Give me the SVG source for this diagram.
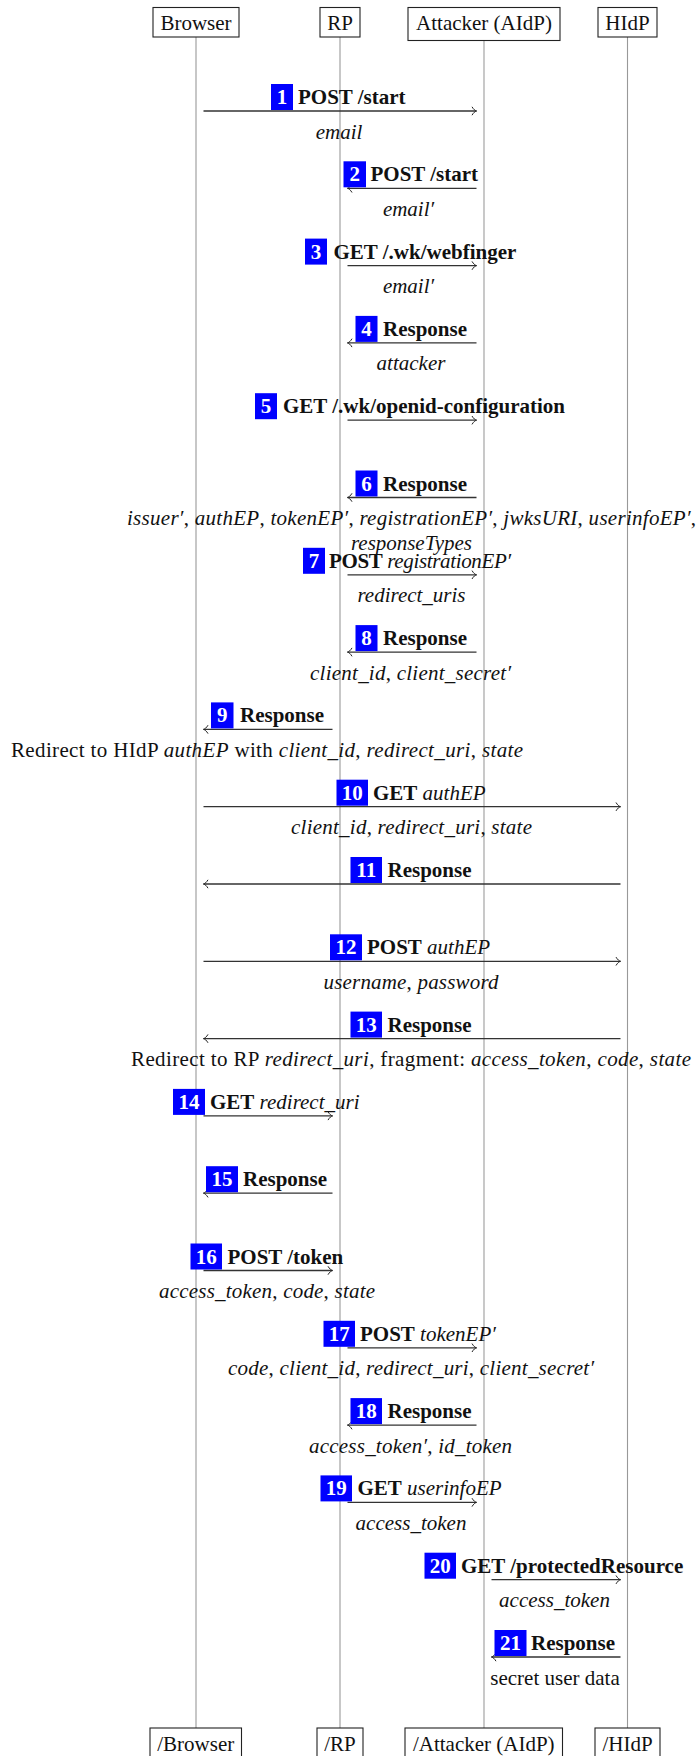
<svg xmlns="http://www.w3.org/2000/svg" width="699" height="1756" viewBox="0 0 699 1756">
  <defs>
    <style>
      text { font-family: "Liberation Serif", "Times New Roman", serif; font-size: 21px; fill: #111; }
      .b { font-weight: bold; }
      .i { font-style: italic; }
      .mid { text-anchor: middle; }
      .box { fill: #fff; stroke: #222; stroke-width: 1.1; }
      .life { stroke: #999; stroke-width: 1.1; }
      .life-a { stroke: #bbb; stroke-width: 1.6; }
      .msg { stroke: #333; stroke-width: 1.3; fill: none; marker-end: url(#tip); }
      .badge { fill: #0000ff; }
      .num { fill: #fff; font-weight: bold; text-anchor: middle; }
    </style>
    <!-- open "to"-style arrow tip -->
    <marker id="tip" viewBox="-6 -6 8 12" markerWidth="8" markerHeight="12" refX="0" refY="0" orient="auto" markerUnits="userSpaceOnUse">
      <path d="M-4.5,-4.2 C-3,-1.6 -1.2,-0.3 0,0 C-1.2,0.3 -3,1.6 -4.5,4.2" fill="none" stroke="#222" stroke-width="1"/>
    </marker>
  </defs>

  <rect width="699" height="1756" fill="#fff"/>

  <!-- lifelines -->
  <g id="lifelines">
    <line class="life" x1="196" y1="37" x2="196" y2="1728"/>
    <line class="life" x1="340" y1="37" x2="340" y2="1728"/>
    <line class="life-a" x1="484" y1="40.5" x2="484" y2="1728"/>
    <line class="life" x1="627.5" y1="37" x2="627.5" y2="1728"/>
  </g>

  <!-- participants (top) -->
  <g id="browser">
    <rect class="box" x="153" y="7.5" width="86" height="29.5"/>
    <text class="mid" x="196" y="29.5">Browser</text>
  </g>
  <g id="rp">
    <rect class="box" x="320" y="7.5" width="40" height="29.5"/>
    <text class="mid" x="340" y="29.5">RP</text>
  </g>
  <g id="attacker">
    <rect class="box" x="408" y="7.5" width="152" height="33"/>
    <text class="mid" x="484" y="29.5">Attacker (AIdP)</text>
  </g>
  <g id="hidp">
    <rect class="box" x="598" y="7.5" width="59" height="29.5"/>
    <text class="mid" x="627.5" y="29.5">HIdP</text>
  </g>

  <!-- participants (bottom) -->
  <g id="browser-end">
    <rect class="box" x="150" y="1728" width="91.5" height="34"/>
    <text class="mid" x="195.75" y="1751">/Browser</text>
  </g>
  <g id="rp-end">
    <rect class="box" x="317" y="1728" width="46" height="34"/>
    <text class="mid" x="340" y="1751">/RP</text>
  </g>
  <g id="attacker-end">
    <rect class="box" x="405" y="1728" width="157.5" height="34"/>
    <text class="mid" x="483.75" y="1751">/Attacker (AIdP)</text>
  </g>
  <g id="hidp-end">
    <rect class="box" x="595" y="1728" width="65" height="34"/>
    <text class="mid" x="627.5" y="1751">/HIdP</text>
  </g>

  <!-- message arrows -->
  <g id="connectors">
    <line class="msg" x1="203.5" y1="111" x2="476.5" y2="111"/>
    <line class="msg" x1="476.5" y1="188.3" x2="347.5" y2="188.3"/>
    <line class="msg" x1="347.5" y1="265.6" x2="476.5" y2="265.6"/>
    <line class="msg" x1="476.5" y1="342.9" x2="347.5" y2="342.9"/>
    <line class="msg" x1="347.5" y1="420.2" x2="476.5" y2="420.2"/>
    <line class="msg" x1="476.5" y1="497.5" x2="347.5" y2="497.5"/>
    <line class="msg" x1="347.5" y1="574.8" x2="476.5" y2="574.8"/>
    <line class="msg" x1="476.5" y1="652.1" x2="347.5" y2="652.1"/>
    <line class="msg" x1="332.5" y1="729.4" x2="203.5" y2="729.4"/>
    <line class="msg" x1="203.5" y1="806.7" x2="620.5" y2="806.7"/>
    <line class="msg" x1="620.5" y1="884" x2="203.5" y2="884"/>
    <line class="msg" x1="203.5" y1="961.3" x2="620.5" y2="961.3"/>
    <line class="msg" x1="620.5" y1="1038.6" x2="203.5" y2="1038.6"/>
    <line class="msg" x1="203.5" y1="1115.9" x2="332.5" y2="1115.9"/>
    <line class="msg" x1="332.5" y1="1193.2" x2="203.5" y2="1193.2"/>
    <line class="msg" x1="203.5" y1="1270.5" x2="332.5" y2="1270.5"/>
    <line class="msg" x1="347.5" y1="1347.8" x2="476.5" y2="1347.8"/>
    <line class="msg" x1="476.5" y1="1425.1" x2="347.5" y2="1425.1"/>
    <line class="msg" x1="347.5" y1="1502.4" x2="476.5" y2="1502.4"/>
    <line class="msg" x1="491.5" y1="1579.7" x2="620.5" y2="1579.7"/>
    <line class="msg" x1="620.5" y1="1657" x2="491.5" y2="1657"/>
  </g>

  <!-- message labels -->
  <g id="m1">
    <rect class="badge" x="271" y="84" width="22" height="26"/>
    <text class="num" x="282" y="104">1</text>
    <text class="b" x="298" y="104">POST /start</text>
    <text class="mid i" x="339" y="138.5">email</text>
  </g>
  <g id="m2">
    <rect class="badge" x="343.5" y="161.3" width="22.5" height="26"/>
    <text class="num" x="354.75" y="181.3">2</text>
    <text class="b" x="370.5" y="181.3">POST /start</text>
    <text class="mid i" x="408.5" y="215.8">email′</text>
  </g>
  <g id="m3">
    <rect class="badge" x="305" y="238.6" width="22" height="26"/>
    <text class="num" x="316" y="258.6">3</text>
    <text class="b" x="333.5" y="258.6">GET /.wk/webfinger</text>
    <text class="mid i" x="408.5" y="293.1">email′</text>
  </g>
  <g id="m4">
    <rect class="badge" x="355.5" y="315.9" width="22" height="26"/>
    <text class="num" x="366.5" y="335.9">4</text>
    <text class="b" x="383" y="335.9">Response</text>
    <text class="mid i" x="411" y="370.4">attacker</text>
  </g>
  <g id="m5">
    <rect class="badge" x="255" y="393.2" width="22" height="26"/>
    <text class="num" x="266" y="413.2">5</text>
    <text class="b" x="283" y="413.2">GET /.wk/openid-configuration</text>
  </g>
  <g id="m6">
    <rect class="badge" x="355.5" y="470.5" width="22" height="26"/>
    <text class="num" x="366.5" y="490.5">6</text>
    <text class="b" x="383" y="490.5">Response</text>
    <text class="mid" x="411.5" y="525" textLength="569" lengthAdjust="spacing"><tspan class="i">issuer′</tspan>, <tspan class="i">authEP</tspan>, <tspan class="i">tokenEP′</tspan>, <tspan class="i">registrationEP′</tspan>, <tspan class="i">jwksURI</tspan>, <tspan class="i">userinfoEP′</tspan>,</text>
    <text class="mid i" x="411.5" y="549.5" textLength="121" lengthAdjust="spacing">responseTypes</text>
  </g>
  <g id="m7">
    <rect class="badge" x="303" y="547.8" width="22" height="26"/>
    <text class="num" x="314" y="567.8">7</text>
    <text x="329" y="567.8" textLength="182" lengthAdjust="spacing"><tspan class="b">POST</tspan> <tspan class="i">registrationEP′</tspan></text>
    <text class="mid i" x="411.5" y="602.3">redirect_uris</text>
  </g>
  <g id="m8">
    <rect class="badge" x="355.5" y="625.1" width="22" height="26"/>
    <text class="num" x="366.5" y="645.1">8</text>
    <text class="b" x="383" y="645.1">Response</text>
    <text class="mid" x="410.5" y="679.6" textLength="201" lengthAdjust="spacing"><tspan class="i">client_id</tspan>, <tspan class="i">client_secret′</tspan></text>
  </g>
  <g id="m9">
    <rect class="badge" x="211" y="702.4" width="22.5" height="26"/>
    <text class="num" x="222.25" y="722.4">9</text>
    <text class="b" x="240" y="722.4">Response</text>
    <text class="mid" x="267" y="756.9" textLength="512" lengthAdjust="spacing">Redirect to HIdP <tspan class="i">authEP</tspan> with <tspan class="i">client_id</tspan>, <tspan class="i">redirect_uri</tspan>, <tspan class="i">state</tspan></text>
  </g>
  <g id="m10">
    <rect class="badge" x="336.5" y="779.7" width="31.5" height="26"/>
    <text class="num" x="352.25" y="799.7">10</text>
    <text x="373" y="799.7"><tspan class="b">GET</tspan> <tspan class="i">authEP</tspan></text>
    <text class="mid" x="411.5" y="834.2" textLength="241" lengthAdjust="spacing"><tspan class="i">client_id</tspan>, <tspan class="i">redirect_uri</tspan>, <tspan class="i">state</tspan></text>
  </g>
  <g id="m11">
    <rect class="badge" x="350.5" y="857" width="31.5" height="26"/>
    <text class="num" x="366.25" y="877">11</text>
    <text class="b" x="387.5" y="877">Response</text>
  </g>
  <g id="m12">
    <rect class="badge" x="330" y="934.3" width="32" height="26"/>
    <text class="num" x="346" y="954.3">12</text>
    <text x="367" y="954.3"><tspan class="b">POST</tspan> <tspan class="i">authEP</tspan></text>
    <text class="mid" x="411" y="988.8" textLength="175" lengthAdjust="spacing"><tspan class="i">username</tspan>, <tspan class="i">password</tspan></text>
  </g>
  <g id="m13">
    <rect class="badge" x="350.5" y="1011.6" width="31.5" height="26"/>
    <text class="num" x="366.25" y="1031.6">13</text>
    <text class="b" x="387.5" y="1031.6">Response</text>
    <text class="mid" x="411" y="1066.1" textLength="560" lengthAdjust="spacing">Redirect to RP <tspan class="i">redirect_uri</tspan>, fragment:  <tspan class="i">access_token</tspan>, <tspan class="i">code</tspan>, <tspan class="i">state</tspan></text>
  </g>
  <g id="m14">
    <rect class="badge" x="173" y="1088.9" width="32" height="26"/>
    <text class="num" x="189" y="1108.9">14</text>
    <text x="210" y="1108.9"><tspan class="b">GET</tspan> <tspan class="i">redirect_uri</tspan></text>
  </g>
  <g id="m15">
    <rect class="badge" x="206" y="1166.2" width="32" height="26"/>
    <text class="num" x="222" y="1186.2">15</text>
    <text class="b" x="243" y="1186.2">Response</text>
  </g>
  <g id="m16">
    <rect class="badge" x="190.5" y="1243.5" width="31.5" height="26"/>
    <text class="num" x="206.25" y="1263.5">16</text>
    <text class="b" x="227.5" y="1263.5">POST /token</text>
    <text class="mid" x="267" y="1298" textLength="216" lengthAdjust="spacing"><tspan class="i">access_token</tspan>, <tspan class="i">code</tspan>, <tspan class="i">state</tspan></text>
  </g>
  <g id="m17">
    <rect class="badge" x="323.5" y="1320.8" width="31.5" height="26"/>
    <text class="num" x="339.25" y="1340.8">17</text>
    <text x="360" y="1340.8"><tspan class="b">POST</tspan> <tspan class="i">tokenEP′</tspan></text>
    <text class="mid" x="411" y="1375.3" textLength="366" lengthAdjust="spacing"><tspan class="i">code</tspan>, <tspan class="i">client_id</tspan>, <tspan class="i">redirect_uri</tspan>, <tspan class="i">client_secret′</tspan></text>
  </g>
  <g id="m18">
    <rect class="badge" x="350.5" y="1398.1" width="31.5" height="26"/>
    <text class="num" x="366.25" y="1418.1">18</text>
    <text class="b" x="387.5" y="1418.1">Response</text>
    <text class="mid" x="410.5" y="1452.6" textLength="203" lengthAdjust="spacing"><tspan class="i">access_token′</tspan>, <tspan class="i">id_token</tspan></text>
  </g>
  <g id="m19">
    <rect class="badge" x="320.5" y="1475.4" width="31.5" height="26"/>
    <text class="num" x="336.25" y="1495.4">19</text>
    <text x="357.5" y="1495.4"><tspan class="b">GET</tspan> <tspan class="i">userinfoEP</tspan></text>
    <text class="mid i" x="411" y="1529.9">access_token</text>
  </g>
  <g id="m20">
    <rect class="badge" x="424.5" y="1552.7" width="31.5" height="26"/>
    <text class="num" x="440.25" y="1572.7">20</text>
    <text class="b" x="461" y="1572.7">GET /protectedResource</text>
    <text class="mid i" x="554.5" y="1607.2">access_token</text>
  </g>
  <g id="m21">
    <rect class="badge" x="494.5" y="1630" width="32" height="26"/>
    <text class="num" x="510.5" y="1650">21</text>
    <text class="b" x="531" y="1650">Response</text>
    <text class="mid" x="555" y="1684.5">secret user data</text>
  </g>
</svg>
